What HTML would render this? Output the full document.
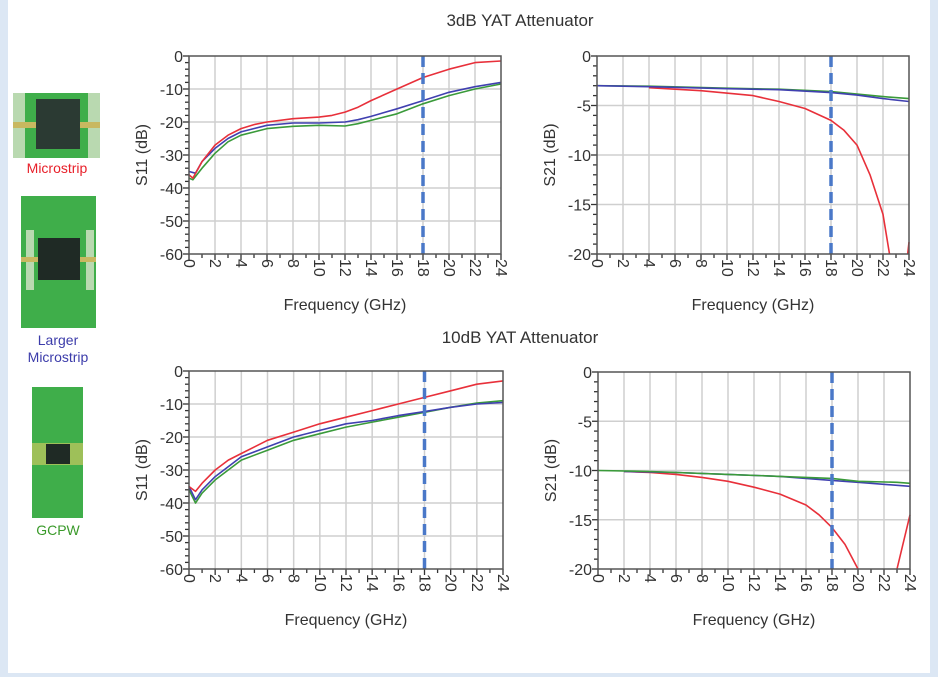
<!DOCTYPE html>
<html><head><meta charset="utf-8"><style>
html,body{margin:0;padding:0;background:#dce7f4;}
#c{position:absolute;left:0;top:0;width:938px;height:677px;}
text{font-family:"Liberation Sans",sans-serif;fill:#333;}
</style></head><body>
<svg id="c" width="938" height="677" xmlns="http://www.w3.org/2000/svg">
<rect x="0" y="0" width="938" height="677" fill="#dce7f4"/>
<rect x="8" y="0" width="922" height="673" fill="#ffffff"/>
<text x="520" y="26" font-size="17" text-anchor="middle">3dB YAT Attenuator</text>
<text x="520" y="343" font-size="17" text-anchor="middle">10dB YAT Attenuator</text>
<!-- left images -->
<g>
<rect x="13" y="93" width="87" height="65" fill="#3fae4a"/>
<rect x="13" y="93" width="12" height="65" fill="#b9d9b0"/>
<rect x="88" y="93" width="12" height="65" fill="#b9d9b0"/>
<rect x="13" y="122" width="87" height="6" fill="#c8b860"/>
<rect x="36" y="99" width="44" height="50" fill="#2b3a33"/>
<text x="57" y="173" font-size="14" fill="#e8202a" text-anchor="middle" style="fill:#e8202a">Microstrip</text>
<rect x="21" y="196" width="75" height="132" fill="#3fae4a"/>
<rect x="26" y="230" width="8" height="60" fill="#b9d9b0"/>
<rect x="86" y="230" width="8" height="60" fill="#b9d9b0"/>
<rect x="21" y="257" width="75" height="5" fill="#c8b860"/>
<rect x="38" y="238" width="42" height="42" fill="#1f2a25"/>
<text x="58" y="345" font-size="14" text-anchor="middle" style="fill:#3c3caa">Larger</text>
<text x="58" y="362" font-size="14" text-anchor="middle" style="fill:#3c3caa">Microstrip</text>
<rect x="32" y="387" width="51" height="131" fill="#3fae4a"/>
<rect x="32" y="443" width="51" height="22" fill="#c8c860" opacity="0.7"/>
<rect x="46" y="444" width="24" height="20" fill="#1f2a25"/>
<text x="58" y="535" font-size="14" text-anchor="middle" style="fill:#3a9a2a">GCPW</text>
</g>
<g id="plots"></g>
</svg>
<script>
var NS="http://www.w3.org/2000/svg",P=document.getElementById("plots");
function el(t,a,txt){var e=document.createElementNS(NS,t);for(var k in a)e.setAttribute(k,a[k]);if(txt!=null)e.textContent=txt;P.appendChild(e);return e;}
function plot(x0,y0,x1,y1,ymin,ystep,ylab,series){
 var W=x1-x0,H=y1-y0;
 function X(f){return x0+f/24*W;} function Y(d){return y0+(-d)/(-ymin)*H;}
 for(var f=2;f<24;f+=2)el("line",{x1:X(f),y1:y0,x2:X(f),y2:y1,stroke:"#cfcfcf","stroke-width":1.5});
 for(var d=-ystep;d>ymin;d-=ystep)el("line",{x1:x0,y1:Y(d),x2:x1,y2:Y(d),stroke:"#cfcfcf","stroke-width":1.5});
 // minor y ticks
 var minor=ystep/5;
 for(var d=0;d>=ymin-0.001;d-=minor){var mj=Math.abs(d/ystep-Math.round(d/ystep))<0.01;el("line",{x1:x0-(mj?6:4),y1:Y(d),x2:x0,y2:Y(d),stroke:"#333","stroke-width":1.3});}
 for(var f=0;f<=24;f++){var mj=f%2==0;el("line",{x1:X(f),y1:y1,x2:X(f),y2:y1+(mj?6:4),stroke:"#333","stroke-width":1.3});}
 for(var d=0;d>=ymin;d-=ystep)el("text",{x:x0-6,y:Y(d)+6,"font-size":16,"text-anchor":"end"},d==0?"0":String(d));
 for(var f=0;f<=24;f+=2){el("text",{x:0,y:0,"font-size":16,transform:"translate("+(X(f)-5)+","+(y1+5)+") rotate(90)"},String(f));}
 el("text",{x:(x0+x1)/2,y:y1+56,"font-size":16,"text-anchor":"middle"},"Frequency (GHz)");
 el("text",{x:0,y:0,"font-size":16,"text-anchor":"middle",transform:"translate("+(x0-42)+","+((y0+y1)/2)+") rotate(-90)"},ylab);
 series.forEach(function(s){var pts=s[1].map(function(p){return X(p[0]).toFixed(1)+","+Y(Math.max(p[1],ymin)).toFixed(1);}).join(" ");
   el("polyline",{points:pts,fill:"none",stroke:s[0],"stroke-width":1.6,"stroke-linejoin":"round"});});
 el("line",{x1:X(18),y1:y0,x2:X(18),y2:y1,stroke:"#4a78c8","stroke-width":3.5,"stroke-dasharray":"11,6"});
 el("rect",{x:x0,y:y0,width:W,height:H,fill:"none",stroke:"#555","stroke-width":1.5});
}
var R="#e8303a",B="#4040b0",G="#3a9a3a";
plot(189,56,501,254,-60,10,"S11 (dB)",[
 [G,[[0,-37],[0.3,-37.5],[1,-34],[2,-29.5],[3,-26],[4,-24],[6,-22],[8,-21.3],[10,-21],[12,-21.2],[13,-20.5],[14,-19.5],[16,-17.5],[18,-14.5],[20,-12],[22,-10],[24,-8.5]]],
 [B,[[0,-35],[0.5,-35.5],[1,-32],[2,-28],[3,-25],[4,-23],[6,-21],[8,-20.3],[10,-20.3],[12,-20],[13,-19.3],[14,-18.3],[16,-16],[18,-13.5],[20,-11],[22,-9.3],[24,-8]]],
 [R,[[0,-36],[0.3,-37],[1,-32],[2,-27],[3,-24],[4,-22],[5,-20.8],[6,-20],[8,-19],[10,-18.5],[11,-18],[12,-17],[13,-15.5],[14,-13.5],[16,-10],[18,-6.5],[20,-4],[22,-2],[24,-1.5]]]
]);
plot(597,56,909,254,-20,5,"S21 (dB)",[
 [R,[[4,-3.2],[8,-3.5],[12,-4],[14,-4.6],[16,-5.3],[18,-6.5],[19,-7.5],[20,-9],[21,-12],[22,-16],[22.5,-20]]],
 [R,[[23.9,-20],[24,-18.8]]],
 [G,[[0,-3],[4,-3.05],[10,-3.25],[14,-3.35],[18,-3.6],[20,-3.85],[22,-4.1],[24,-4.3]]],
 [B,[[0,-3],[4,-3.1],[10,-3.3],[14,-3.4],[18,-3.7],[20,-3.95],[22,-4.3],[24,-4.6]]]
]);
plot(189,371,503,569,-60,10,"S11 (dB)",[
 [G,[[0,-36],[0.5,-40],[1,-37],[2,-33],[4,-27],[6,-24],[8,-21],[10,-19],[12,-17],[14,-15.5],[16,-14],[18,-12.5],[20,-11],[22,-9.7],[24,-9]]],
 [B,[[0,-35],[0.5,-39],[1,-36],[2,-32],[4,-26],[6,-23],[8,-20],[10,-18],[12,-16],[14,-15],[16,-13.5],[18,-12.3],[20,-11],[22,-10],[24,-9.5]]],
 [R,[[0,-35],[0.5,-36.5],[1,-34],[2,-30],[3,-27],[4,-25],[6,-21],[8,-18.5],[10,-16],[12,-14],[14,-12],[16,-10],[18,-8],[20,-6],[22,-4],[24,-3]]]
]);
plot(598,372,910,569,-20,5,"S21 (dB)",[
 [R,[[2,-10.1],[4,-10.2],[6,-10.4],[8,-10.7],[10,-11.1],[12,-11.7],[14,-12.4],[16,-13.5],[17,-14.5],[18,-15.8],[19,-17.5],[20,-20]]],
 [R,[[23,-20],[24,-14.5]]],
 [B,[[2,-10.1],[6,-10.2],[10,-10.4],[14,-10.6],[18,-11],[20,-11.2],[23,-11.5],[24,-11.6]]],
 [G,[[0,-10],[4,-10.1],[10,-10.4],[14,-10.6],[18,-10.8],[20,-11.1],[23,-11.2],[24,-11.3]]]
]);
</script>
</body></html>
